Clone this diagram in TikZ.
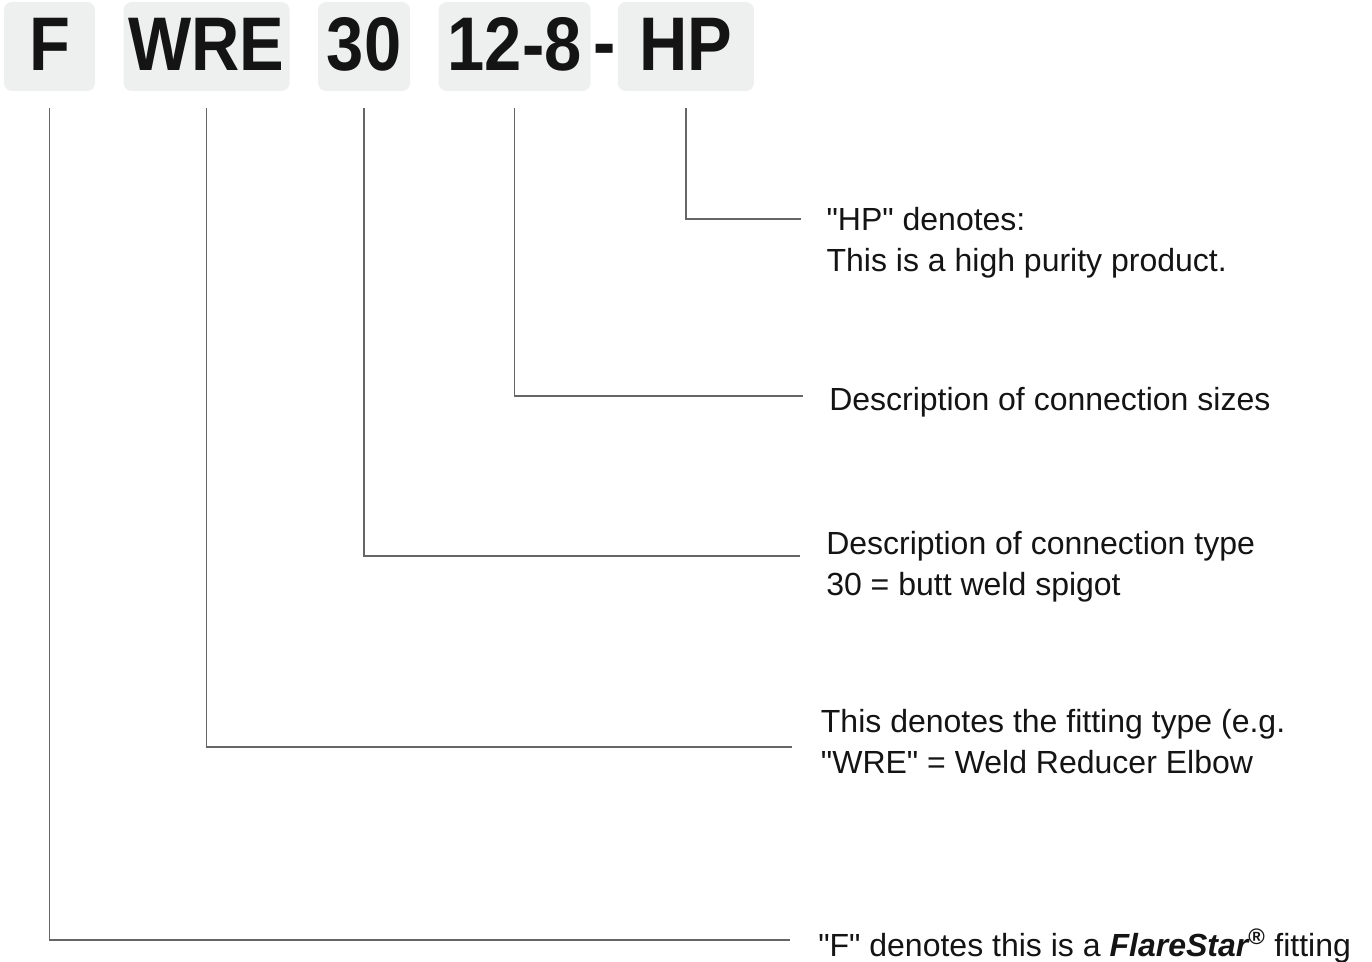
\documentclass[tikz,border=0pt]{standalone}
\usepackage{fontspec}
\setmainfont{Liberation Sans}[Ligatures=TeXOff]
\newfontfamily\codefont{Liberation Sans}[FakeStretch=0.88]
\usetikzlibrary{positioning, calc}
\definecolor{boxgray}{HTML}{EEEFEF}
\definecolor{leadgray}{HTML}{666666}
\definecolor{ink}{HTML}{141414}
\tikzset{
  x=0.75pt, y=-0.75pt,
  node distance=21pt,
  code/.style={fill=boxgray, rounded corners=6pt, minimum height=66.75pt,
    inner sep=0pt, text height=36.75pt, text depth=0pt, text=ink,
    font=\codefont\fontsize{57}{57}\selectfont\bfseries},
  leader/.style={draw=leadgray, line width=1.1pt},
  note/.style={font=\fontsize{24}{30.75}\selectfont, text=ink, align=left, inner sep=0pt},
}

\begin{document}
\begin{tikzpicture}
        \useasboundingbox (0,0) rectangle (1372,962);

        % code boxes
        \node[code, minimum width=68.25pt] (f) at (49.5,46.5) {F};
        \node[code, minimum width=124.5pt, right=of f] (wre) {WRE};
        \node[code, minimum width=69pt, right=of wre] (thirty) {30};
        \node[code, minimum width=114pt, right=of thirty] (sizes) {12-8};
        \node[code, minimum width=102pt, right=20pt of sizes] (hp) {HP};
        \node[code, fill=none, minimum height=0pt, text height=, anchor=base, yshift=2pt] (dash)
              at ($(sizes.base east)!0.5!(hp.base west)$) {-};

        % leader ends
        \coordinate (hpend) at (801,219);
        \coordinate (sizesend) at (803,396);
        \coordinate (typeend) at (800,556);
        \coordinate (wreend) at (792,747);
        \coordinate (fend) at (790,940);

        % notes
        \node[note, right=19pt of hpend, yshift=-17.7pt] (hpnote)
              {"HP" denotes:\\This is a high purity product.};
        \node[note, right=19.5pt of sizesend, yshift=-4.5pt] (sizesnote)
              {Description of connection sizes};
        \node[note, right=19.5pt of typeend, yshift=-8pt] (typenote)
              {Description of connection type\\30 = butt weld spigot};
        \node[note, right=21.5pt of wreend, yshift=4.3pt] (wrenote)
              {This denotes the fitting type (e.g.\\"WRE" = Weld Reducer Elbow};
        \node[note, right=21pt of fend, yshift=-4.5pt] (fnote)
              {"F" denotes this is a {\bfseries\itshape FlareStar}\textsuperscript{\bfseries\textregistered} fitting};

        % leaders
        \draw[leader] ([yshift=-12.75pt]hp.south) |- (hpend);
        \draw[leader] ([yshift=-12.75pt]sizes.south) |- (sizesend);
        \draw[leader] ([yshift=-12.75pt]thirty.south) |- (typeend);
        \draw[leader] ([yshift=-12.75pt]wre.south) |- (wreend);
        \draw[leader] ([yshift=-12.75pt]f.south) |- (fend);
\end{tikzpicture}
\end{document}
